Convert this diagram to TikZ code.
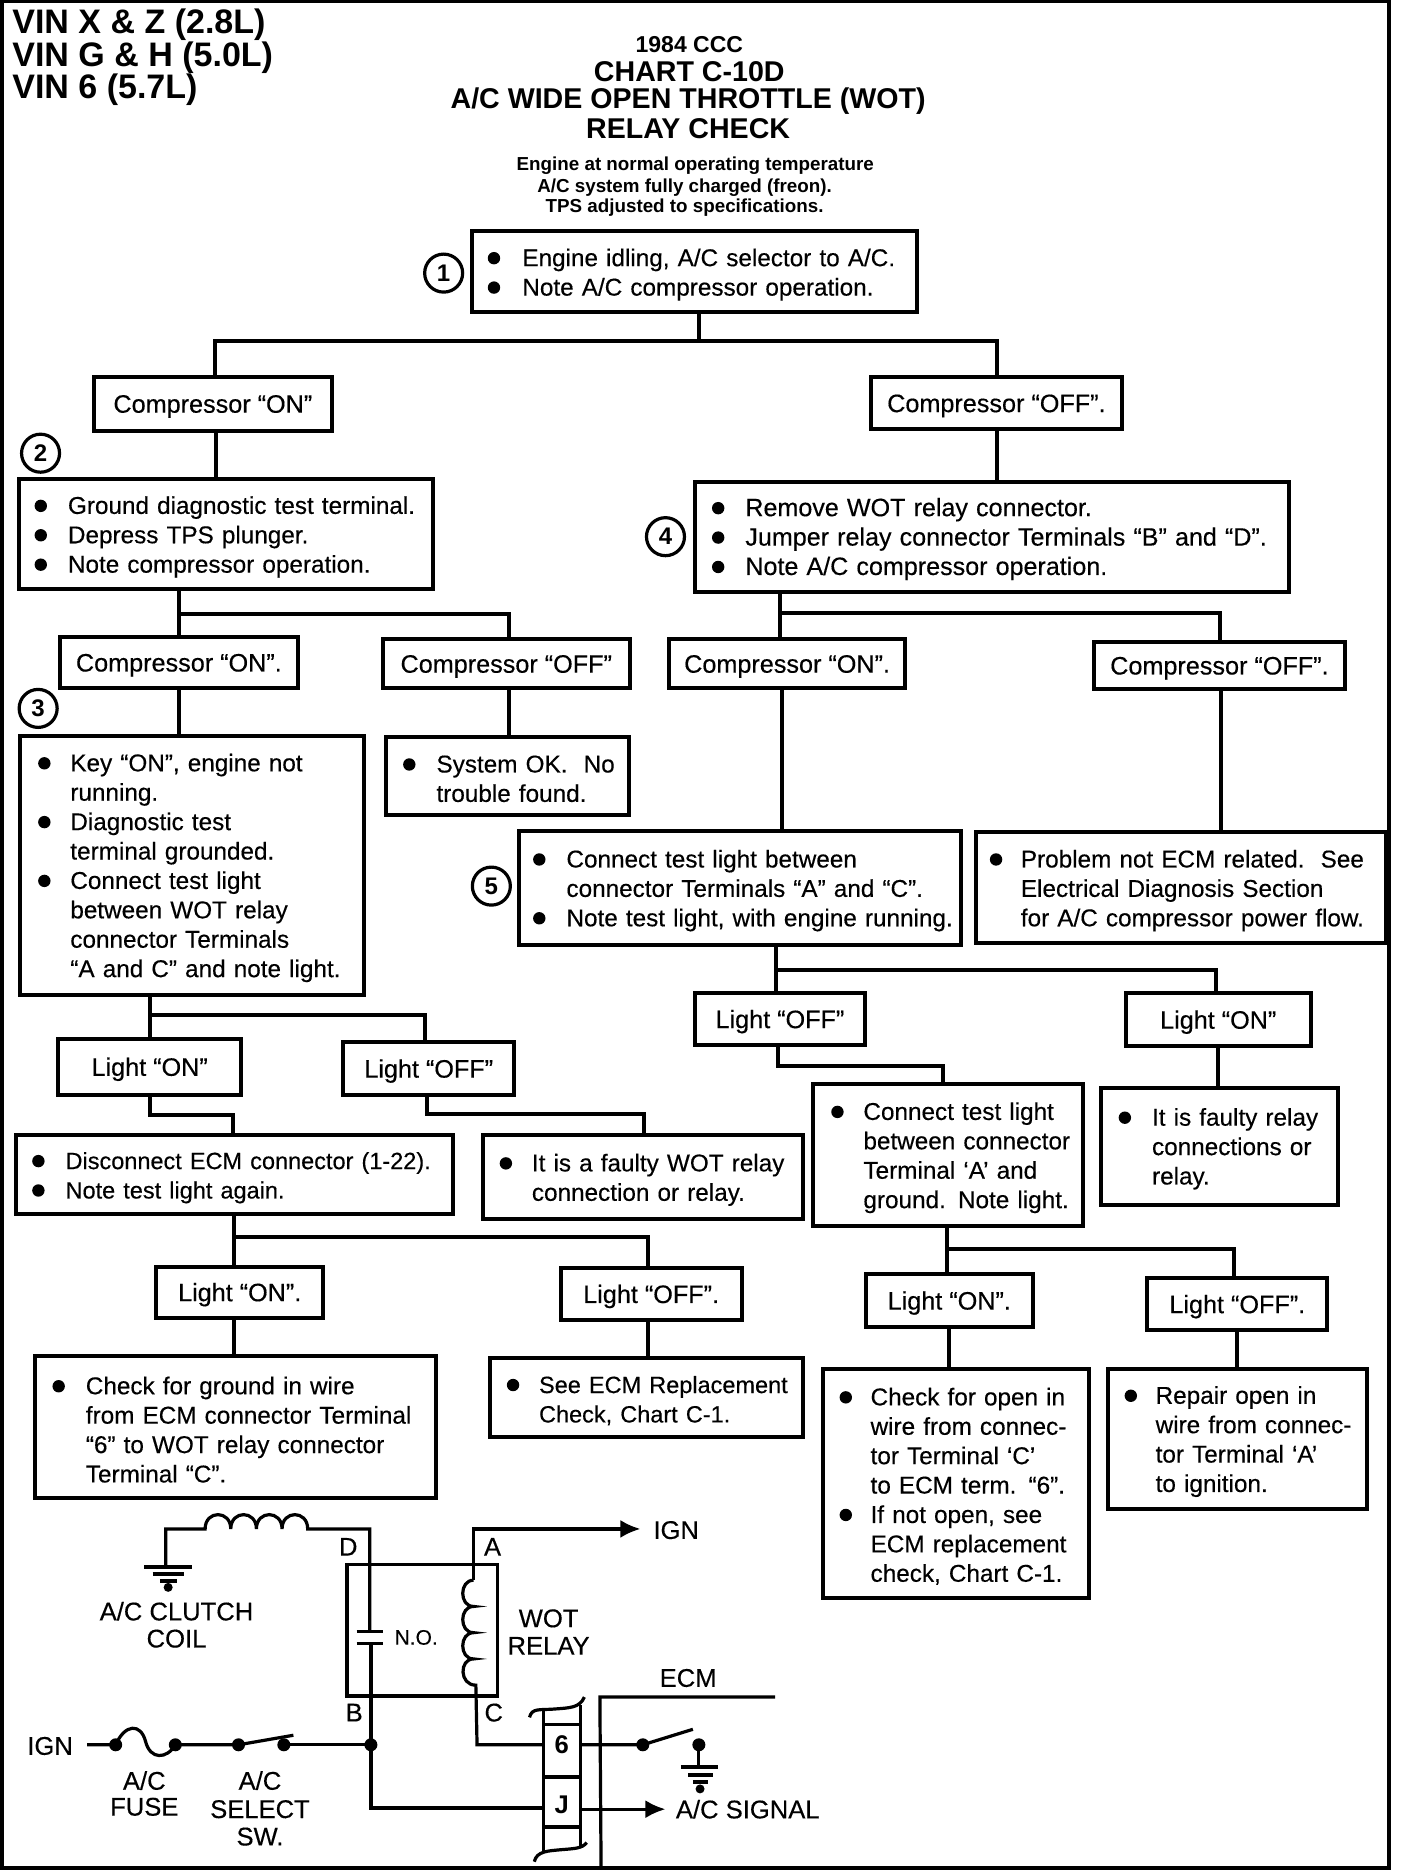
\documentclass[tikz,border=0pt]{standalone}
\usepackage{fontspec}
\setmainfont{Liberation Sans}
\newfontfamily\heavy[FakeBold=0.35]{Liberation Sans}
\usetikzlibrary{arrows.meta}
\newlength\blw
\def\bl{\makebox[\blw][l]{\tikz[x=1pt,y=1pt,baseline=0pt]{\fill[black] (3.4,4) circle[radius=3.1];}}}
\def\ind{\hspace*{\blw}}
\def\bodyf{\heavy\fontsize{12.15}{14.7}\selectfont}
\def\labf{\heavy\fontsize{12.6}{14.7}\selectfont}
\def\tightf{\fontsize{11.75}{14.7}\selectfont}
\def\widef{\fontsize{12.55}{14.7}\selectfont}
\tikzset{
  box/.style={draw=black,line width=2pt,inner sep=0pt,outer sep=0pt,rectangle},
  conn/.style={line width=2pt},
  wire/.style={line width=1.6pt},
  lbl/.style={inner sep=0pt,font=\heavy\fontsize{12.8}{14}\selectfont},
  num/.style={circle,draw=black,line width=1.6pt,minimum size=19pt,inner sep=0pt,font=\bfseries\fontsize{12}{12}\selectfont},
  dot/.style={circle,fill=black,inner sep=0pt,minimum size=6.5pt},
  vin/.style={anchor=west,inner sep=0pt,font=\bfseries\fontsize{17}{18}\selectfont},
  ttl/.style={inner sep=0pt,font=\bfseries\fontsize{14.3}{15}\selectfont},
  sub/.style={inner sep=0pt,font=\bfseries\fontsize{9.4}{10}\selectfont},
}
% name l t r b pad bulletwidth text
\newcommand\bx[8]{%
  \pgfmathsetmacro\bxw{(#4-#2)*0.5963}%
  \pgfmathsetmacro\bxh{(#5-#3)*0.5963}%
  \pgfmathsetmacro\bxl{#6*0.5963}%
  \pgfmathsetmacro\bxb{#7*0.5963}%
  \setlength\blw{\bxb pt}%
  \node[box,minimum width=\bxw pt,minimum height=\bxh pt,text width=\bxw pt,align=left,font=\bodyf] (#1) at ({(#2+#4)/2},{(#3+#5)/2}) {\leftskip=\bxl pt\relax\rule{0pt}{11.5pt}#8\par};%
}
% name l t r b text
\newcommand\lb[6]{%
  \pgfmathsetmacro\bxw{(#4-#2)*0.5963}%
  \pgfmathsetmacro\bxh{(#5-#3)*0.5963}%
  \node[box,minimum width=\bxw pt,minimum height=\bxh pt,font=\labf] (#1) at ({(#2+#4)/2},{(#3+#5)/2}) {\raisebox{-1.5pt}[9pt][3pt]{#6}};%
}
\begin{document}
\begin{tikzpicture}[x=0.5963pt,y=-0.5963pt]
\useasboundingbox (0,0) rectangle (1180.7,1568);
\draw[line width=2pt] (2,1) rectangle (1165,1566);
% heading
\node[vin] (v1) at (10,21) {VIN X \& Z (2.8L)};
\node[vin] (v2) at (10,48) {VIN G \& H (5.0L)};
\node[vin] (v3) at (10,75) {VIN 6 (5.7L)};
\node[inner sep=0pt,font=\bfseries\fontsize{11.5}{12}\selectfont] (t1) at (578,37) {1984 CCC};
\node[ttl] (t2) at (578,60) {CHART C-10D};
\node[ttl] (t3) at (577,85) {A/C WIDE OPEN THROTTLE (WOT)};
\node[ttl] (t4) at (577,108) {RELAY CHECK};
\node[sub] (s1) at (583,139) {Engine at normal operating temperature};
\node[sub] (s2) at (574,157) {A/C system fully charged (freon).};
\node[sub] (s3) at (574,174) {TPS adjusted to specifications.};
% numbers
\node[num] (n1) at (372,229) {1};
\node[num] (n2) at (34,380) {2};
\node[num] (n3) at (32,594) {3};
\node[num] (n4) at (558,450) {4};
\node[num] (n5) at (412,743) {5};
% boxes
\bx{b1}{396}{194}{769}{262}{13}{29}{\bl Engine idling, A/C selector to A/C.\\\bl Note A/C compressor operation.}
\lb{c1}{79}{316}{278}{361}{Compressor “ON”}
\lb{c2}{730}{316}{941}{360}{Compressor “OFF”.}
\bx{b2}{16}{402}{363}{494}{13}{28}{\bl Ground diagnostic test terminal.\\\bl Depress TPS plunger.\\\bl Note compressor operation.}
\bx{b4}{583}{404}{1081}{496}{14}{28}{\widef\bl Remove WOT relay connector.\\\bl Jumper relay connector Terminals “B” and “D”.\\\bl Note A/C compressor operation.}
\lb{c3}{50}{534}{250}{577}{Compressor “ON”.}
\lb{c4}{321}{536}{528}{577}{Compressor “OFF”}
\lb{c5}{561}{536}{759}{577}{Compressor “ON”.}
\lb{c6}{917}{538}{1128}{578}{Compressor “OFF”.}
\bx{b3}{17}{617}{305}{834}{15}{27}{\bl Key “ON”, engine not\\\ind running.\\\bl Diagnostic test\\\ind terminal grounded.\\\bl Connect test light\\\ind between WOT relay\\\ind connector Terminals\\\ind “A and C” and note light.}
\bx{b6}{324}{618}{527}{683}{14}{28}{\bl System OK.\ \ No\\\ind trouble found.}
\bx{b5}{435}{697}{806}{792}{12}{28}{\bl Connect test light between\\\ind connector Terminals “A” and “C”.\\\bl Note test light, with engine running.}
\bx{b7}{818}{698}{1162}{791}{12}{26}{\bl Problem not ECM related.\ \ See\\\ind Electrical Diagnosis Section\\\ind for A/C compressor power flow.}
\lb{l1}{583}{833}{725}{876}{Light “OFF”}
\lb{l2}{944}{833}{1099}{877}{Light “ON”}
\lb{l3}{49}{871}{202}{918}{Light “ON”}
\lb{l4}{288}{874}{431}{918}{Light “OFF”}
\bx{b8}{13}{952}{380}{1018}{14}{28}{\tightf\bl Disconnect ECM connector (1-22).\\\bl Note test light again.}
\bx{b9}{405}{952}{673}{1022}{14}{27}{\bl It is a faulty WOT relay\\\ind connection or relay.}
\bx{b10}{682}{909}{908}{1028}{15}{27}{\bl Connect test light\\\ind between connector\\\ind Terminal ‘A’ and\\\ind ground. Note light.}
\bx{b11}{923}{912}{1122}{1010}{15}{28}{\bl It is faulty relay\\\ind connections or\\\ind relay.}
\lb{l5}{131}{1062}{271}{1105}{Light “ON”.}
\lb{l6}{470}{1063}{622}{1107}{Light “OFF”.}
\lb{l7}{726}{1068}{866}{1113}{Light “ON”.}
\lb{l8}{962}{1072}{1113}{1115}{Light “OFF”.}
\bx{b12}{29}{1137}{366}{1256}{15}{28}{\bl Check for ground in wire\\\ind from ECM connector Terminal\\\ind “6” to WOT relay connector\\\ind Terminal “C”.}
\bx{b13}{411}{1139}{673}{1205}{14}{27}{\tightf\bl See ECM Replacement\\\ind Check, Chart C-1.}
\bx{b14}{690}{1148}{913}{1340}{14}{26}{\bl Check for open in\\\ind wire from connec-\\\ind tor Terminal ‘C’\\\ind to ECM term. “6”.\\\bl If not open, see\\\ind ECM replacement\\\ind check, Chart C-1.}
\bx{b15}{929}{1148}{1146}{1265}{14}{26}{\bl Repair open in\\\ind wire from connec-\\\ind tor Terminal ‘A’\\\ind to ignition.}
% connectors
\draw[conn] (586,0 |- b1.south) -- (586,286);
\draw[conn] (180,0 |- c1.north) -- (180,286) -- (836,286) -- (836,0 |- c2.north);
\draw[conn] (181,0 |- c1.south) -- (181,0 |- b2.north);
\draw[conn] (836,0 |- c2.south) -- (836,0 |- b4.north);
\draw[conn] (150,0 |- b2.south) -- (150,0 |- c3.north);
\draw[conn] (150,515) -- (427,515) -- (427,0 |- c4.north);
\draw[conn] (654,0 |- b4.south) -- (654,0 |- c5.north);
\draw[conn] (654,514) -- (1023,514) -- (1023,0 |- c6.north);
\draw[conn] (150,0 |- c3.south) -- (150,0 |- b3.north);
\draw[conn] (427,0 |- c4.south) -- (427,0 |- b6.north);
\draw[conn] (656,0 |- c5.south) -- (656,0 |- b5.north);
\draw[conn] (1024,0 |- c6.south) -- (1024,0 |- b7.north);
\draw[conn] (651,0 |- b5.south) -- (651,0 |- l1.north);
\draw[conn] (651,813) -- (1020,813) -- (1020,0 |- l2.north);
\draw[conn] (652,0 |- l1.south) -- (652,894) -- (791,894) -- (791,0 |- b10.north);
\draw[conn] (1021,0 |- l2.south) -- (1021,0 |- b11.north);
\draw[conn] (126,0 |- b3.south) -- (126,0 |- l3.north);
\draw[conn] (126,851) -- (356,851) -- (356,0 |- l4.north);
\draw[conn] (126,0 |- l3.south) -- (126,935) -- (195,935) -- (195,0 |- b8.north);
\draw[conn] (358,0 |- l4.south) -- (358,934) -- (540,934) -- (540,0 |- b9.north);
\draw[conn] (196,0 |- b8.south) -- (196,0 |- l5.north);
\draw[conn] (196,1037) -- (543,1037) -- (543,0 |- l6.north);
\draw[conn] (196,0 |- l5.south) -- (196,0 |- b12.north);
\draw[conn] (543,0 |- l6.south) -- (543,0 |- b13.north);
\draw[conn] (794,0 |- b10.south) -- (794,0 |- l7.north);
\draw[conn] (794,1047) -- (1035,1047) -- (1035,0 |- l8.north);
\draw[conn] (796,0 |- l7.south) -- (796,0 |- b14.north);
\draw[conn] (1037,0 |- l8.south) -- (1037,0 |- b15.north);
% schematic
\draw[wire] (139,1314) -- (139,1282) -- (172,1282)
  .. controls (172,1266) and (193.5,1266) .. (193.5,1282)
  .. controls (193.5,1266) and (215,1266) .. (215,1282)
  .. controls (215,1266) and (236.5,1266) .. (236.5,1282)
  .. controls (236.5,1266) and (258,1266) .. (258,1282)
  -- (310,1282) -- (310,1368);
\draw[line width=2pt] (121,1314) -- (161,1314);
\draw[line width=2pt] (128,1320) -- (154,1320);
\draw[line width=2pt] (134,1326) -- (148,1326);
\node[dot,minimum size=4.5pt] (g1) at (141,1331) {};
\node[lbl] (cc1) at (148,1351) {A/C CLUTCH};
\node[lbl] (cc2) at (148,1374) {COIL};
\draw[line width=1.8pt] (299,1368) -- (321,1368);
\draw[line width=1.8pt] (299,1378) -- (321,1378);
\draw[wire] (311,1378) -- (311,1463) -- (311,1516) -- (456,1516);
\node[lbl,font=\heavy\fontsize{10.5}{12}\selectfont] (no) at (349,1373) {N.O.};
\draw[wire] (291,1312) rectangle (417,1422);
\node[lbl] (ld) at (292,1297) {D};
\node[lbl] (la) at (413,1297) {A};
\node[lbl] (lb) at (297,1436) {B};
\node[lbl] (lc) at (414,1436) {C};
\node[lbl] (wr1) at (460,1357) {WOT};
\node[lbl] (wr2) at (460,1380) {RELAY};
\draw[wire,-{Latex[length=10pt,width=9pt]}] (397,1325) -- (397,1282) -- (537,1282);
\draw[wire] (397,1325)
  .. controls (385,1325) and (385,1347) .. (397,1347)
  .. controls (385,1347) and (385,1369) .. (397,1369)
  .. controls (385,1369) and (385,1391) .. (397,1391)
  .. controls (385,1391) and (385,1413) .. (399,1413)
  -- (400,1463) -- (456,1463);
\node[lbl] (ign1) at (567,1283) {IGN};
\node[lbl] (ecm) at (577,1407) {ECM};
\draw[wire] (650,1423) -- (503,1423) -- (504,1565);
% terminal block
\draw[wire] (444,1440) .. controls (446,1432) and (452,1434) .. (465,1433) .. controls (478,1432) and (486,1432) .. (490,1423);
\draw[wire] (448,1561) .. controls (450,1552) and (460,1552) .. (470,1551) .. controls (482,1550) and (488,1550) .. (492,1545);
\draw[wire] (456,1434) -- (456,1553);
\draw[wire] (487,1430) -- (487,1549);
\draw[wire] (456,1446) -- (487,1446);
\draw[wire] (456,1490) -- (487,1490);
\draw[wire] (456,1532) -- (487,1532);
\node[lbl,font=\bfseries\fontsize{12.8}{14}\selectfont] (p6) at (471,1463) {6};
\node[lbl,font=\bfseries\fontsize{12.8}{14}\selectfont] (pj) at (471,1513) {J};
\draw[wire] (487,1463) -- (539,1463) -- (581,1450);
\node[dot] (s1a) at (539,1463) {};
\node[dot] (s1b) at (586,1463) {};
\draw[wire] (586,1463) -- (586,1482);
\draw[line width=2pt] (571,1482) -- (602,1482);
\draw[line width=2pt] (577,1488) -- (598,1488);
\draw[line width=2pt] (581,1494) -- (594,1494);
\node[dot,minimum size=4.5pt] (g2) at (587,1500) {};
\draw[wire,-{Latex[length=10pt,width=9pt]}] (487,1517) -- (558,1517);
\node[lbl] (sig) at (627,1517) {A/C SIGNAL};
% ignition feed
\node[lbl] (ign2) at (42,1464) {IGN};
\draw[wire] (73,1463) -- (97,1463) .. controls (105,1445) and (118,1445) .. (122,1460) .. controls (126,1476) and (140,1475) .. (147,1463) -- (200,1463) -- (246,1455);
\draw[wire] (238,1463) -- (311,1463);
\node[dot] (f1) at (97,1463) {};
\node[dot] (f2) at (147,1463) {};
\node[dot] (f3) at (200,1463) {};
\node[dot] (f4) at (238,1463) {};
\node[dot] (f5) at (311,1463) {};
\node[lbl] (fu1) at (121,1493) {A/C};
\node[lbl] (fu2) at (121,1515) {FUSE};
\node[lbl] (se1) at (218,1493) {A/C};
\node[lbl] (se2) at (218,1517) {SELECT};
\node[lbl] (se3) at (218,1540) {SW.};
\end{tikzpicture}
\end{document}
